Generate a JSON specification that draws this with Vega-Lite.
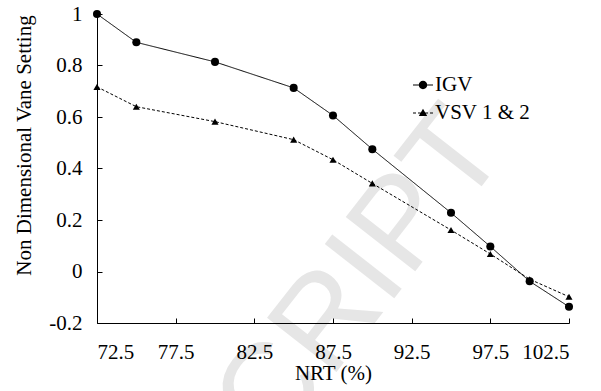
{
  "$schema": "https://vega.github.io/schema/vega-lite/v6.json",
  "width": 472,
  "height": 309,
  "autosize": "none",
  "padding": {"left": 97, "top": 14, "right": 32, "bottom": 68},
  "background": "white",
  "config": {
    "font": "Liberation Serif",
    "view": {"stroke": null},
    "axis": {
      "grid": false,
      "domainColor": "black",
      "domainWidth": 1,
      "tickColor": "black",
      "tickWidth": 1,
      "tickSize": -5,
      "labelFont": "Liberation Serif",
      "labelFontSize": 21,
      "labelColor": "black",
      "titleFont": "Liberation Serif",
      "titleFontSize": 21,
      "titleFontWeight": "normal",
      "titleColor": "black"
    },
    "legend": {
      "labelFont": "Liberation Serif",
      "labelFontSize": 21,
      "labelColor": "black"
    }
  },
  "data": {
    "values": [
      {"nrt": 72.5, "series": "IGV", "setting": 1.0},
      {"nrt": 75.0, "series": "IGV", "setting": 0.89},
      {"nrt": 80.0, "series": "IGV", "setting": 0.814},
      {"nrt": 85.0, "series": "IGV", "setting": 0.713},
      {"nrt": 87.5, "series": "IGV", "setting": 0.606},
      {"nrt": 90.0, "series": "IGV", "setting": 0.475},
      {"nrt": 95.0, "series": "IGV", "setting": 0.228},
      {"nrt": 97.5, "series": "IGV", "setting": 0.097},
      {"nrt": 100.0, "series": "IGV", "setting": -0.038},
      {"nrt": 102.5, "series": "IGV", "setting": -0.137},
      {"nrt": 72.5, "series": "VSV 1 & 2", "setting": 0.717},
      {"nrt": 75.0, "series": "VSV 1 & 2", "setting": 0.64},
      {"nrt": 80.0, "series": "VSV 1 & 2", "setting": 0.582},
      {"nrt": 85.0, "series": "VSV 1 & 2", "setting": 0.512},
      {"nrt": 87.5, "series": "VSV 1 & 2", "setting": 0.434},
      {"nrt": 90.0, "series": "VSV 1 & 2", "setting": 0.342},
      {"nrt": 95.0, "series": "VSV 1 & 2", "setting": 0.161},
      {"nrt": 97.5, "series": "VSV 1 & 2", "setting": 0.068},
      {"nrt": 100.0, "series": "VSV 1 & 2", "setting": -0.03},
      {"nrt": 102.5, "series": "VSV 1 & 2", "setting": -0.098}
    ]
  },
  "resolve": {"scale": {"shape": "independent", "size": "independent"}},
  "layer": [
    {
      "data": {"values": [{"mark": "CRIPT"}]},
      "mark": {
        "type": "text",
        "font": "Liberation Sans",
        "fontSize": 128,
        "angle": -52,
        "align": "center",
        "baseline": "middle",
        "color": "#e6e6e6"
      },
      "encoding": {
        "text": {"field": "mark"},
        "x": {"datum": 89.3, "type": "quantitative"},
        "y": {"datum": -0.027, "type": "quantitative"}
      }
    },
    {
      "mark": {"type": "line", "color": "black", "strokeWidth": 1},
      "encoding": {
        "x": {
          "field": "nrt",
          "type": "quantitative",
          "title": "NRT (%)",
          "scale": {"domain": [72.5, 102.5], "nice": false, "zero": false},
          "axis": {
            "zindex": 2,
            "values": [72.5, 77.5, 82.5, 87.5, 92.5, 97.5, 102.5],
            "format": ".1f",
            "labelPadding": 23,
            "titlePadding": 0
          }
        },
        "y": {
          "field": "setting",
          "type": "quantitative",
          "title": "Non Dimensional Vane Setting",
          "scale": {"domain": [-0.2, 1], "nice": false, "zero": false},
          "axis": {
            "zindex": 2,
            "values": [-0.2, 0, 0.2, 0.4, 0.6, 0.8, 1],
            "labelExpr": "replace(format(datum.value, '.1~f'), '−', '-')",
            "labelPadding": 20,
            "titleX": -73,
            "titleY": 131,
            "titleAlign": "center",
            "titleBaseline": "middle"
          }
        },
        "strokeDash": {
          "field": "series",
          "type": "nominal",
          "scale": {"domain": ["IGV", "VSV 1 & 2"], "range": [[1, 0], [3, 2]]},
          "legend": null
        }
      }
    },
    {
      "mark": {"type": "point", "filled": true, "color": "black", "opacity": 1},
      "encoding": {
        "x": {"field": "nrt", "type": "quantitative"},
        "y": {"field": "setting", "type": "quantitative"},
        "shape": {
          "field": "series",
          "type": "nominal",
          "scale": {"domain": ["IGV", "VSV 1 & 2"], "range": ["circle", "triangle-up"]},
          "legend": null
        },
        "size": {
          "field": "series",
          "type": "nominal",
          "scale": {"domain": ["IGV", "VSV 1 & 2"], "range": [65, 50]},
          "legend": null
        }
      }
    },
    {
      "description": "Legend key: a short line segment with the series marker on it",
      "data": {"values": []},
      "mark": {"type": "point", "filled": true, "color": "black", "opacity": 1},
      "encoding": {
        "shape": {
          "field": "series",
          "type": "nominal",
          "scale": {
            "domain": ["IGV", "VSV 1 & 2"],
            "range": [
              "M-1,-0.05L1,-0.05L1,0.05L-1,0.05ZM-0.42,0A0.42,0.42,0,1,1,0.42,0A0.42,0.42,0,1,1,-0.42,0Z",
              "M-1,-0.05L-0.7,-0.05L-0.7,0.05L-1,0.05ZM-0.5,-0.05L-0.2,-0.05L-0.2,0.05L-0.5,0.05ZM0.2,-0.05L0.5,-0.05L0.5,0.05L0.2,0.05ZM0.7,-0.05L1,-0.05L1,0.05L0.7,0.05ZM0,-0.42L0.42,0.3L-0.42,0.3Z"
            ]
          },
          "legend": {
            "title": null,
            "orient": "none",
            "legendX": 315,
            "legendY": 60,
            "symbolSize": 400,
            "symbolFillColor": "black",
            "rowPadding": 7,
            "labelOffset": 1
          }
        }
      }
    }
  ]
}
